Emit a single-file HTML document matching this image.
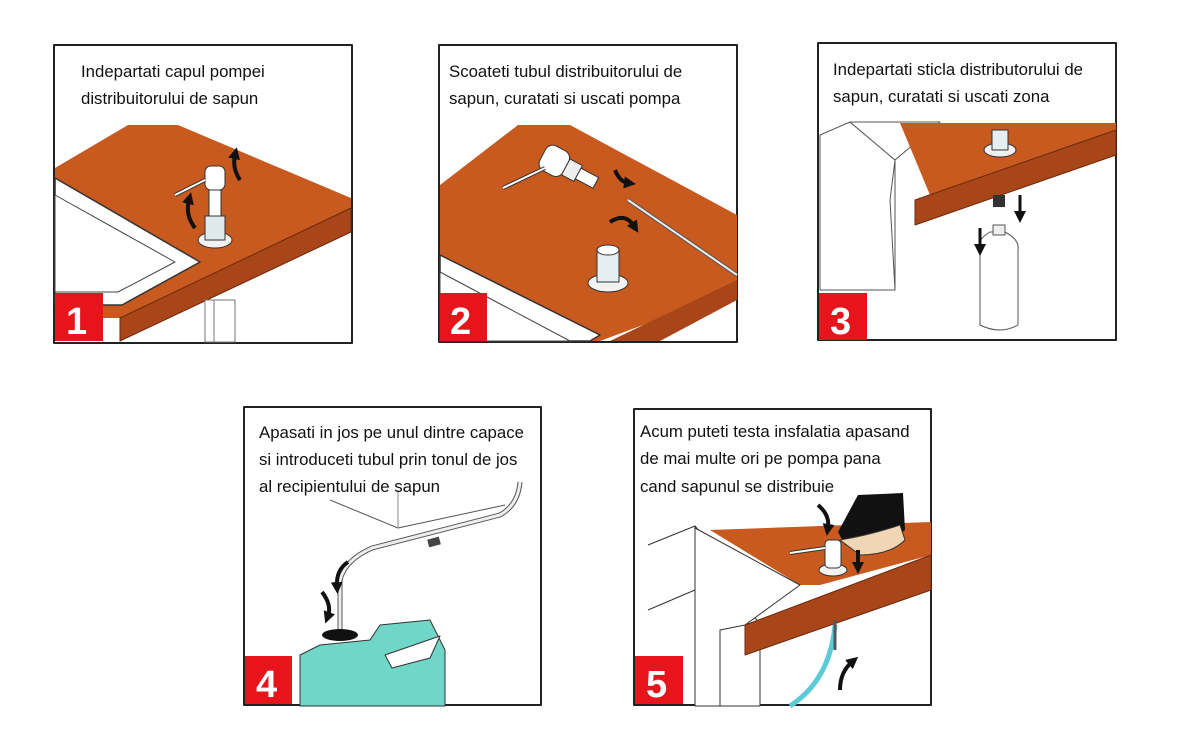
<!DOCTYPE html>
<html><head><meta charset="utf-8"><style>
html,body{margin:0;padding:0;background:#fff;width:1200px;height:742px;overflow:hidden}
svg{display:block}
text{font-family:"Liberation Sans Narrow","Liberation Sans",sans-serif;font-size:16.8px;fill:#111}
.n{font-family:"Liberation Sans",sans-serif;font-weight:bold;font-size:38px;fill:#fff}
</style></head><body>
<svg width="1200" height="742" viewBox="0 0 1200 742" xmlns="http://www.w3.org/2000/svg">
<defs>
<marker id="ah" markerUnits="userSpaceOnUse" markerWidth="12" markerHeight="12" refX="4" refY="6" orient="auto"><path d="M0,0 L12,6 L0,12 z" fill="#111"/></marker>
</defs>
<g stroke-linejoin="round">
<!-- PANEL 1 -->
<rect x="54" y="45" width="298" height="298" fill="#fff" stroke="#222" stroke-width="2"/>
<polygon points="55,168 128,125 178,125 351,198 351,212 122,318 55,318" fill="#c8591f"/>
<polygon points="55,178 200,262 122,305 55,305" fill="#fff" stroke="#333" stroke-width="1.5"/>
<polygon points="55,195 175,262 118,292 55,292" fill="#fff" stroke="#444" stroke-width="1"/>
<polygon points="120,318 351,208 351,232 120,341" fill="#a8461a" stroke="#6a2a0e" stroke-width="1"/>
<rect x="205" y="300" width="30" height="42" fill="#fff" stroke="#777"/>
<line x1="214" y1="300" x2="214" y2="342" stroke="#777"/>
<ellipse cx="215" cy="240" rx="17" ry="8" fill="#f2f2f2" stroke="#333"/>
<rect x="205" y="216" width="20" height="24" fill="#dfe9ec" stroke="#333"/>
<rect x="209" y="190" width="12" height="26" fill="#fff" stroke="#333"/>
<rect x="205" y="166" width="20" height="24" rx="6" fill="#fff" stroke="#333"/>
<line x1="175" y1="195" x2="205" y2="180" stroke="#333" stroke-width="4"/>
<line x1="175" y1="195" x2="205" y2="180" stroke="#fff" stroke-width="2"/>
<path d="M195,228 Q185,215 189,200" stroke="#111" stroke-width="4" fill="none" marker-end="url(#ah)"/>
<path d="M240,180 Q232,168 235,155" stroke="#111" stroke-width="4" fill="none" marker-end="url(#ah)"/>
<rect x="55" y="293" width="48" height="48" fill="#e8141c"/>
<text class="n" x="66" y="334">1</text>
<text x="81" y="77">Indepartati capul pompei</text>
<text x="81" y="104">distribuitorului de sapun</text>

<!-- PANEL 2 -->
<rect x="439" y="45" width="298" height="297" fill="#fff" stroke="#222" stroke-width="2"/>
<polygon points="440,185 518,125 570,125 737,215 737,290 600,341 440,341" fill="#c8591f"/>
<polygon points="440,255 600,335 590,341 440,341" fill="#fff" stroke="#333" stroke-width="1.5"/>
<polygon points="440,272 570,341 440,341" fill="#fff" stroke="#444"/>
<polygon points="610,341 737,280 737,300 660,341" fill="#a8461a"/>
<line x1="628" y1="200" x2="737" y2="275" stroke="#555" stroke-width="4"/>
<line x1="628" y1="200" x2="737" y2="275" stroke="#eee" stroke-width="2"/>
<ellipse cx="608" cy="283" rx="20" ry="9" fill="#f2f2f2" stroke="#333"/>
<rect x="597" y="250" width="22" height="32" fill="#e5eef0" stroke="#333"/>
<ellipse cx="608" cy="250" rx="11" ry="5" fill="#fff" stroke="#333"/>
<g transform="rotate(28 560 165)">
<rect x="540" y="150" width="26" height="28" rx="8" fill="#fff" stroke="#333"/>
<rect x="566" y="155" width="14" height="18" fill="#eee" stroke="#333"/>
<rect x="580" y="158" width="20" height="12" fill="#fff" stroke="#333"/>
</g>
<line x1="503" y1="188" x2="545" y2="168" stroke="#333" stroke-width="4"/>
<line x1="503" y1="188" x2="545" y2="168" stroke="#fff" stroke-width="2"/>
<path d="M615,170 Q620,182 628,183" stroke="#111" stroke-width="4" fill="none" marker-end="url(#ah)"/>
<path d="M610,222 Q625,212 634,226" stroke="#111" stroke-width="4" fill="none" marker-end="url(#ah)"/>
<rect x="440" y="293" width="47" height="48" fill="#e8141c"/>
<text class="n" x="450" y="334">2</text>
<text x="449" y="77">Scoateti tubul distribuitorului de</text>
<text x="449" y="104">sapun, curatati si uscati pompa</text>

<!-- PANEL 3 -->
<rect x="818" y="43" width="298" height="297" fill="#fff" stroke="#222" stroke-width="2"/>
<polygon points="820,135 850,122 895,160 890,200 895,290 820,290" fill="#fff" stroke="#555"/>
<polygon points="850,122 940,122 895,160" fill="#fff" stroke="#555"/>
<line x1="895" y1="160" x2="895" y2="290" stroke="#555"/>
<polygon points="900,123 1116,123 1116,132 975,195 930,195" fill="#c8591f"/>
<polygon points="915,200 1116,130 1116,155 915,225" fill="#a8461a" stroke="#6a2a0e"/>
<ellipse cx="1000" cy="150" rx="16" ry="7" fill="#f2f2f2" stroke="#333"/>
<rect x="992" y="130" width="16" height="20" fill="#e5eef0" stroke="#333"/>
<rect x="993" y="195" width="12" height="12" fill="#333"/>
<path d="M980,250 Q976,240 990,232 L1005,232 Q1020,240 1018,250 L1018,325 Q1000,335 980,325 Z" fill="#fff" stroke="#555"/>
<rect x="993" y="225" width="12" height="10" fill="#eee" stroke="#555"/>
<path d="M1020,195 L1020,215" stroke="#111" stroke-width="3" marker-end="url(#ah)"/>
<path d="M980,228 L980,248" stroke="#111" stroke-width="3" marker-end="url(#ah)"/>
<rect x="819" y="293" width="48" height="47" fill="#e8141c"/>
<text class="n" x="830" y="334">3</text>
<text x="833" y="75">Indepartati sticla distributorului de</text>
<text x="833" y="102">sapun, curatati si uscati zona</text>

<!-- PANEL 4 -->
<rect x="244" y="407" width="297" height="298" fill="#fff" stroke="#222" stroke-width="2"/>
<polyline points="330,500 398,528 505,505" fill="none" stroke="#555"/>
<line x1="398" y1="490" x2="398" y2="528" stroke="#888"/>
<path d="M340,635 L340,580 Q345,560 372,548 L500,515 Q518,505 520,482" fill="none" stroke="#555" stroke-width="5"/>
<path d="M340,635 L340,580 Q345,560 372,548 L500,515 Q518,505 520,482" fill="none" stroke="#eee" stroke-width="3"/>
<rect x="428" y="538" width="12" height="8" fill="#444" transform="rotate(-15 434 542)"/>
<path d="M300,655 L320,645 L370,640 L380,625 L430,620 L445,650 L445,706 L300,706 Z" fill="#6fd6c8" stroke="#333"/>
<polygon points="385,655 440,636 430,658 392,668" fill="#fff" stroke="#333"/>
<ellipse cx="340" cy="635" rx="18" ry="6" fill="#111"/>
<path d="M348,562 Q336,570 337,586" stroke="#111" stroke-width="4" fill="none" marker-end="url(#ah)"/>
<path d="M322,592 Q332,605 328,616" stroke="#111" stroke-width="4" fill="none" marker-end="url(#ah)"/>
<rect x="245" y="656" width="47" height="48" fill="#e8141c"/>
<text class="n" x="256" y="697">4</text>
<text x="259" y="438">Apasati in jos pe unul dintre capace</text>
<text x="259" y="465">si introduceti tubul prin tonul de jos</text>
<text x="259" y="492">al recipientului de sapun</text>

<!-- PANEL 5 -->
<rect x="634" y="409" width="297" height="296" fill="#fff" stroke="#222" stroke-width="2"/>
<polyline points="648,545 695,526 700,532" fill="none" stroke="#333"/>
<polygon points="695,526 760,625 760,706 695,706" fill="#fff" stroke="#333"/>
<line x1="648" y1="610" x2="695" y2="590" stroke="#333"/>
<polygon points="710,530 931,522 931,555 820,585 800,585" fill="#c8591f"/>
<polygon points="695,528 800,585 745,625 720,630 720,706 695,706" fill="#fff" stroke="#333"/>
<polygon points="745,625 931,555 931,590 745,655" fill="#a8461a" stroke="#6a2a0e"/>
<path d="M835,625 Q830,680 790,706" stroke="#5ccbd8" stroke-width="5" fill="none"/>
<line x1="835" y1="620" x2="835" y2="650" stroke="#555" stroke-width="3"/>
<ellipse cx="833" cy="570" rx="14" ry="6" fill="#f2f2f2" stroke="#333"/>
<rect x="825" y="540" width="16" height="28" rx="4" fill="#fff" stroke="#333"/>
<line x1="790" y1="553" x2="825" y2="548" stroke="#333" stroke-width="4"/>
<line x1="790" y1="553" x2="825" y2="548" stroke="#fff" stroke-width="2"/>
<path d="M858,495 L903,493 L905,530 L880,550 L845,545 L838,532 Z" fill="#111"/>
<path d="M840,540 Q870,535 900,525 L905,540 Q890,555 860,555 Z" fill="#f0d6b5" stroke="#333"/>
<path d="M818,505 Q830,515 828,528" stroke="#111" stroke-width="4" fill="none" marker-end="url(#ah)"/>
<path d="M858,550 L858,566" stroke="#111" stroke-width="4" marker-end="url(#ah)"/>
<path d="M840,690 Q840,672 852,662" stroke="#111" stroke-width="4" fill="none" marker-end="url(#ah)"/>
<rect x="635" y="656" width="48" height="48" fill="#e8141c"/>
<text class="n" x="646" y="697">5</text>
<text x="640" y="437">Acum puteti testa insfalatia apasand</text>
<text x="640" y="464">de mai multe ori pe pompa pana</text>
<text x="640" y="492">cand sapunul se distribuie</text>
</g>
</svg>
</body></html>
